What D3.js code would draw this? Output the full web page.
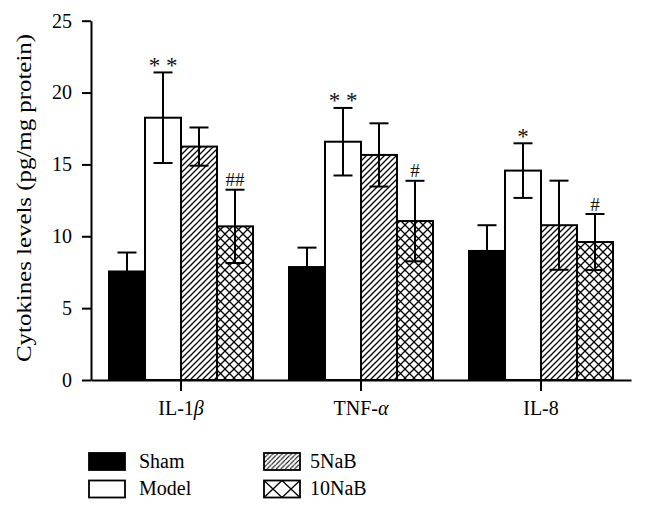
<!DOCTYPE html>
<html>
<head>
<meta charset="utf-8">
<script src="https://cdn.jsdelivr.net/npm/d3@7"></script>
<style>
  html, body { margin: 0; padding: 0; background: #fff; }
  svg { display: block; font-family: "Liberation Serif", "Times New Roman", serif; }
</style>
</head>
<body>
<svg id="chart" width="645" height="512"></svg>
<script>
// ---- data ----
const categories = ["IL-1β", "TNF-α", "IL-8"];
const seriesNames = ["Sham", "Model", "5NaB", "10NaB"];
const shamMean   = [7.55, 7.86, 8.98];
const shamSD     = [1.32, 1.35, 1.79];
const modelMean  = [18.25, 16.58, 14.57];
const modelSD    = [3.15, 2.35, 1.90];
const nab5Mean   = [16.24, 15.66, 10.77];
const nab5SD     = [1.33, 2.20, 3.10];
const nab10Mean  = [10.69, 11.06, 9.60];
const nab10SD    = [2.55, 2.80, 1.95];
const modelMarks = ["* *", "* *", "*"];
const nab10Marks = ["##", "#", "#"];
const yTicks = [0, 5, 10, 15, 20, 25];

const means = [shamMean, modelMean, nab5Mean, nab10Mean];
const sds = [shamSD, modelSD, nab5SD, nab10SD];
const marks = [null, modelMarks, null, nab10Marks];

const rows = [];
categories.forEach((c, ci) => {
  seriesNames.forEach((s, si) => {
    rows.push({cat: c, series: s, si, mean: means[si][ci], sd: sds[si][ci],
               mark: marks[si] ? marks[si][ci] : null});
  });
});

const svg = d3.select("#chart");
const defs = svg.append("defs");

// hatch patterns
const p5 = defs.append("pattern").attr("id", "hatch5").attr("patternUnits", "userSpaceOnUse")
  .attr("width", 6).attr("height", 6);
p5.append("rect").attr("width", 6).attr("height", 6).attr("fill", "#fff");
p5.append("path").attr("d", "M-1,7 L7,-1 M-4,4 L4,-4 M2,10 L10,2")
  .attr("stroke", "#000").attr("stroke-width", 1.3);

const p10 = defs.append("pattern").attr("id", "cross10").attr("patternUnits", "userSpaceOnUse")
  .attr("width", 9).attr("height", 9);
p10.append("rect").attr("width", 9).attr("height", 9).attr("fill", "#fff");
p10.append("path").attr("d", "M0,0 L9,9 M9,0 L0,9")
  .attr("stroke", "#000").attr("stroke-width", 1.3);

// legend patterns
const lp5 = defs.append("pattern").attr("id", "lhatch5").attr("patternUnits", "userSpaceOnUse")
  .attr("width", 4.6).attr("height", 4.6);
lp5.append("rect").attr("width", 4.6).attr("height", 4.6).attr("fill", "#fff");
lp5.append("path").attr("d", "M-1,5.6 L5.6,-1 M-3,2.6 L2.6,-3 M2,8.6 L8.6,2")
  .attr("stroke", "#000").attr("stroke-width", 1.1);

const x = d3.scaleBand().domain(categories).range([91, 631]).paddingInner(0.2).paddingOuter(0.1);
const xs = d3.scaleBand().domain(seriesNames).range([0, x.bandwidth()]).padding(0);
const y = d3.scaleLinear().domain([0, 25]).range([380, 20.7]);

const fills = {"Sham": "#000", "Model": "#fff", "5NaB": "url(#hatch5)", "10NaB": "url(#cross10)"};

// bars
svg.append("g").selectAll("rect").data(rows).join("rect")
  .attr("x", d => x(d.cat) + xs(d.series))
  .attr("y", d => y(d.mean))
  .attr("width", xs.bandwidth())
  .attr("height", d => y(0) - y(d.mean))
  .attr("fill", d => fills[d.series])
  .attr("stroke", "#000").attr("stroke-width", 2);

// error bars
const capW = 19;
const eg = svg.append("g").attr("stroke", "#000").attr("stroke-width", 2).attr("fill", "none");
rows.forEach(d => {
  const cx = x(d.cat) + xs(d.series) + xs.bandwidth() / 2;
  const yt = y(d.mean + d.sd), yb = y(d.mean - d.sd);
  eg.append("line").attr("x1", cx).attr("x2", cx).attr("y1", yt).attr("y2", yb);
  eg.append("line").attr("x1", cx - capW/2).attr("x2", cx + capW/2).attr("y1", yt).attr("y2", yt);
  eg.append("line").attr("x1", cx - capW/2).attr("x2", cx + capW/2).attr("y1", yb).attr("y2", yb);
});

// significance marks
svg.append("g").selectAll("text").data(rows.filter(d => d.mark)).join("text")
  .attr("x", d => x(d.cat) + xs(d.series) + xs.bandwidth() / 2)
  .attr("y", d => y(d.mean + d.sd) - (d.mark.includes("#") ? 3.5 : -0.5))
  .attr("text-anchor", "middle")
  .attr("font-size", d => d.mark.includes("#") ? 19 : 23)
  .attr("fill", "#111")
  .text(d => d.mark);

// y axis
const yAxis = svg.append("g").attr("transform", "translate(91,0)")
  .call(d3.axisLeft(y).tickValues(yTicks).tickSize(9).tickSizeOuter(0).tickPadding(10));
yAxis.selectAll("path, line").attr("stroke", "#000").attr("stroke-width", 2);
yAxis.selectAll("text").attr("font-size", 20).attr("font-family", "Liberation Serif").attr("fill", "#000");

// x axis
const xAxis = svg.append("g").attr("transform", "translate(0,380)")
  .call(d3.axisBottom(x).tickSize(11).tickSizeOuter(0).tickPadding(10));
xAxis.selectAll("path, line").attr("stroke", "#000").attr("stroke-width", 2);
xAxis.selectAll("text").attr("font-size", 20).attr("font-family", "Liberation Serif").attr("fill", "#000")
  .each(function(d) {
    const t = d3.select(this);
    const m = d.match(/^(.*?)([αβ])$/);
    if (m) {
      t.text(null);
      t.append("tspan").text(m[1]);
      t.append("tspan").attr("font-style", "italic").text(m[2]);
    }
  });

// y label
svg.append("text")
  .attr("transform", "translate(31,198) rotate(-90)")
  .attr("text-anchor", "middle")
  .attr("font-size", 22)
  .attr("textLength", 328)
  .attr("lengthAdjust", "spacingAndGlyphs")
  .text("Cytokines levels (pg/mg protein)");

// legend
const legendItems = [
  {name: "Sham", fill: "#000", x: 89, y: 453},
  {name: "Model", fill: "#fff", x: 89, y: 480.5},
  {name: "5NaB", fill: "url(#lhatch5)", x: 264, y: 453},
  {name: "10NaB", fill: "#fff", x: 264, y: 480.5}
];
const lg = svg.append("g");
legendItems.forEach(it => {
  lg.append("rect").attr("x", it.x).attr("y", it.y).attr("width", 36).attr("height", 17)
    .attr("fill", it.fill).attr("stroke", "#000").attr("stroke-width", 1.8);
  if (it.name === "10NaB") {
    const w = 18, h = 17;
    lg.append("path")
      .attr("d", `M${it.x},${it.y} L${it.x + w},${it.y + h} M${it.x + w},${it.y} L${it.x},${it.y + h} M${it.x + w},${it.y} L${it.x + 2*w},${it.y + h} M${it.x + 2*w},${it.y} L${it.x + w},${it.y + h}`)
      .attr("stroke", "#000").attr("stroke-width", 1.3).attr("fill", "none");
  }
  lg.append("text").attr("x", it.x + (it.x < 200 ? 50 : 46)).attr("y", it.y + 14.5)
    .attr("font-size", 20).text(it.name);
});
</script>
</body>
</html>
